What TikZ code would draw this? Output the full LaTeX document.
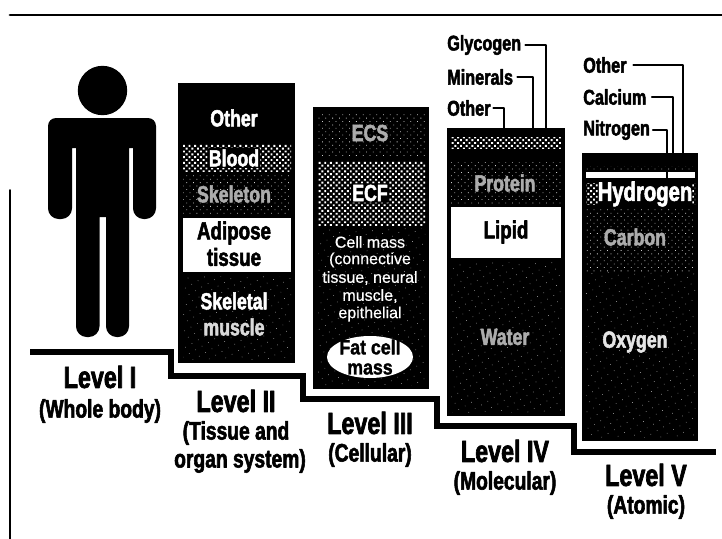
\documentclass[tikz,border=0pt]{standalone}
\usepackage{fontspec}
\setmainfont{Liberation Sans}[FakeStretch=0.76,BoldFeatures={FakeBold=2.2}]
\newfontfamily\cellfont{Liberation Sans}[FakeBold=0.5]
\newfontfamily\fatfont{Liberation Sans Bold}[FakeStretch=0.86,FakeBold=1.5]
\usetikzlibrary{patterns.meta}
\tikzset{
	coltext/.style={text=white, font=\bfseries\fontsize{17.5}{17.5}\selectfont, inner sep=0pt},
	halotext/.style={coltext, fill=black, inner sep=1pt, rounded corners=1pt},
	dimtext/.style={coltext, text=gray!65},
	blacktext/.style={coltext, text=black, font=\bfseries\fontsize{18.5}{18.5}\selectfont},
	smalltext/.style={coltext, font=\cellfont\fontsize{12}{12}\selectfont},
	fattext/.style={coltext, text=black, font=\fatfont\fontsize{15.5}{15.5}\selectfont},
	toptext/.style={blacktext, font=\bfseries\fontsize{16}{16}\selectfont, anchor=west},
	lvltext/.style={blacktext, font=\bfseries\fontsize{23}{23}\selectfont},
	subtext/.style={blacktext, font=\bfseries\fontsize{19}{19}\selectfont},
	leader/.style={line width=1.6pt},
	densedots/.style={pattern={Dots[distance=3pt,radius=1.02pt,angle=45]}, pattern color=white},
	sparsedots/.style={pattern={Dots[distance=3.6pt,radius=0.42pt,angle=45]}, pattern color=white!80!black},
	faintdots/.style={pattern={Dots[distance=5.5pt,radius=0.32pt,angle=30]}, pattern color=white!70!black}
}
\begin{document}
\begin{tikzpicture}[x=0.75pt, y=-0.75pt, line cap=round, line join=round]
	\useasboundingbox (0,0) rectangle (722,539);
	\fill[white] (0,0) rectangle (722,539);
	\draw[line width=2.2pt] (10,15)--(722,15);
	\draw[line width=1.2pt] (10,190)--(10,539);
	% person
	\fill (102.5,90.5) circle(24.7);
	\fill (102,118) [rounded corners=6pt] -- (156,118) [rounded corners=8pt] -- (156,219) -- (133,219) [sharp corners] -- (133,148) -- (129,148)
		[rounded corners=8pt] -- (129,337) -- (106,337) [sharp corners] -- (106,217) -- (99.5,217)
		[rounded corners=8pt] -- (99.5,337) -- (76,337) [sharp corners] -- (76,148) -- (72,148)
		[rounded corners=8pt] -- (72,219) -- (48,219) [rounded corners=6pt] -- (48,118) [sharp corners] -- cycle;
	% steps
	\draw[line width=5pt, line cap=butt, line join=miter] (30,352)--(171,352)--(171,376)--(303,376)--(303,399)--(437,399)--(437,426)--(574,426)--(574,452)--(716,452);
	% column II
	\fill (178,83) rectangle (295,363);
	\fill[densedots] (183,144) rectangle (291,171);
	\fill[sparsedots] (183,175) rectangle (291,215);
	\fill[white] (183,218) rectangle (291,272);
	\fill[faintdots] (183,276) rectangle (291,359);
	\node[coltext] (other2) at (234,118) {Other};
	\node[halotext] (blood) at (234,158) {Blood};
	\node[dimtext] (skeleton) at (234,194) {Skeleton};
	\node[blacktext] (adipose) at (234,233) {Adipose};
	\node[blacktext] (tissue) at (234,257) {tissue};
	\node[coltext] (skeletal) at (234,301) {Skeletal};
	\node[coltext, text=white!85!black] (muscle) at (234,327) {muscle};
	% column III
	\fill (313,107) rectangle (429,389);
	\fill[sparsedots] (318,112) rectangle (425,155);
	\fill[densedots] (318,161) rectangle (425,225);
	\fill[faintdots] (318,228) rectangle (425,385);
	\node[dimtext] (ecs) at (370,133) {ECS};
	\node[halotext] (ecf) at (370,193) {ECF};
	\node[smalltext] (cellmass) at (370,242) {Cell mass};
	\node[smalltext] (connective) at (370,260) {(connective};
	\node[smalltext] (neural) at (370,278) {tissue, neural};
	\node[smalltext] (musclec) at (370,296) {muscle,};
	\node[smalltext] (epithelial) at (370,314) {epithelial};
	\fill[white] (370,357) ellipse[x radius=43, y radius=21];
	\node[fattext] (fatcell) at (370,347) {Fat cell};
	\node[fattext] (mass) at (370,369) {mass};
	% column IV
	\fill (447,128) rectangle (565,416);
	\fill[densedots] (451,137) rectangle (561,148);
	\fill[sparsedots] (451,162) rectangle (561,204);
	\fill[white] (451,207) rectangle (561,258);
	\fill[faintdots] (451,262) rectangle (561,412);
	\node[dimtext] (protein) at (505,183) {Protein};
	\node[blacktext] (lipid) at (506,232) {Lipid};
	\node[dimtext] (water) at (505,337) {Water};
	% column V
	\fill (582,153) rectangle (698,441);
	\fill[sparsedots] (586,166.5) rectangle (695,170);
	\fill[white] (586,172) rectangle (695,178);
	\fill[densedots] (586,183) rectangle (695,204);
	\fill[sparsedots] (586,208) rectangle (695,272);
	\fill[faintdots] (586,272) rectangle (695,437);
	\node[halotext, font=\bfseries\fontsize{20}{20}\selectfont, inner sep=0pt] (hydrogen) at (645,194) {Hydrogen};
	\node[dimtext] (carbon) at (635,237) {Carbon};
	\node[coltext, text=white!90!black] (oxygen) at (635,342) {Oxygen};
	% leaders
	\node[toptext] (glycogen) at (447,45) {Glycogen};
	\node[toptext] (minerals) at (447,77) {Minerals};
	\node[toptext] (other4) at (447,108) {Other};
	\node[toptext] (other5) at (583,65) {Other};
	\node[toptext] (calcium) at (583,97) {Calcium};
	\node[toptext] (nitrogen) at (583,130) {Nitrogen};
	\coordinate (glycogenend) at (546,128);
	\coordinate (mineralsend) at (533,128);
	\coordinate (other4end) at (504,128);
	\coordinate (other5end) at (683,153);
	\coordinate (calciumend) at (673,153);
	\coordinate (nitrogenend) at (667,178);
	\draw[leader] ([xshift=3]glycogen.east)-|(glycogenend);
	\draw[leader] ([xshift=3]minerals.east)-|(mineralsend);
	\draw[leader] ([xshift=2]other4.east)-|(other4end);
	\draw[leader] ([xshift=5]other5.east)-|(other5end);
	\draw[leader] ([xshift=4]calcium.east)-|(calciumend);
	\draw[leader] ([xshift=2]nitrogen.east)-|(nitrogenend);
	% levels
	\node[lvltext] (level1) at (100,377) {Level I};
	\node[subtext] (whole) at (100,411) {(Whole body)};
	\node[lvltext] (level2) at (236,401) {Level II};
	\node[subtext] (tissueand) at (236,433) {(Tissue and};
	\node[subtext] (organ) at (240,461) {organ system)};
	\node[lvltext] (level3) at (370,423) {Level III};
	\node[subtext] (cellular) at (370,455) {(Cellular)};
	\node[lvltext] (level4) at (505,451) {Level IV};
	\node[subtext] (molecular) at (505,483) {(Molecular)};
	\node[lvltext] (level5) at (646,475) {Level V};
	\node[subtext] (atomic) at (646,507) {(Atomic)};
\end{tikzpicture}
\end{document}
